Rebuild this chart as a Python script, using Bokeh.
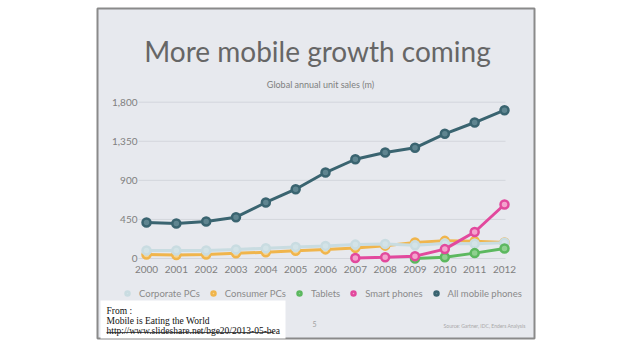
from bokeh.plotting import figure
from bokeh.models import Range1d, Legend, LegendItem
from bokeh.core.properties import value
from bokeh.embed import file_html
from bokeh.resources import INLINE

# ---- data ----
years = [2000, 2001, 2002, 2003, 2004, 2005, 2006, 2007, 2008, 2009, 2010, 2011, 2012]
corporate_pcs = [92, 92, 93, 105, 118, 133, 145, 160, 168, 152, 172, 170, 182]
consumer_pcs = [45, 40, 47, 60, 72, 90, 105, 122, 148, 185, 203, 200, 185]
all_mobile = [415, 403, 426, 476, 645, 798, 990, 1143, 1221, 1275, 1436, 1566, 1708]
tablet_years = [2009, 2010, 2011, 2012]
tablets = [0, 14, 62, 115]
smart_years = [2007, 2008, 2009, 2010, 2011, 2012]
smart_phones = [5, 14, 27, 108, 305, 622]
y_ticks = [0, 450, 900, 1350, 1800]
y_tick_labels = ["0", "450", "900", "1,350", "1,800"]
x_tick_labels = [str(y) for y in years]

title_text = "More mobile growth coming"
subtitle_text = "Global annual unit sales (m)"

# ---- pixel helpers (window pixels -> data) ----
XPX = (504 - 146) / 12.0
YPX = (258 - 101.7) / 1800.0
def px2x(wx):
    return 2000 + (wx - 146) / XPX
def px2y(wy):
    return (258 - wy) / YPX

SL, SR, ST, SB = 97, 534, 8, 338
W, H = 636, 357
SLIDE_BG = "#e7e9ee"
p = figure(width=W, height=H, output_backend="svg", toolbar_location=None,
           x_axis_type=None, y_axis_type=None,
           x_range=Range1d(px2x(SL), px2x(SR)), y_range=Range1d(px2y(SB), px2y(ST)),
           min_border_left=SL, min_border_right=W - SR, min_border_top=ST, min_border_bottom=H - SB)
p.grid.visible = False
p.background_fill_color = SLIDE_BG
p.border_fill_color = "white"
p.outline_line_color = "#8a8a8a"
p.outline_line_width = 2

# gridlines
p.segment(x0=[px2x(138)] * len(y_ticks), x1=[px2x(505)] * len(y_ticks), y0=y_ticks, y1=y_ticks,
          line_color="#d3d6dc", line_width=1)

# tick labels
p.text(x=[px2x(137)] * len(y_ticks), y=y_ticks, text=y_tick_labels, text_align="right",
       text_baseline="middle", text_font=value("Lato"), text_font_size="10px", text_color="#808080")
p.text(x=years, y=[px2y(269)] * len(years), text=x_tick_labels, text_align="center",
       text_baseline="middle", text_font=value("Lato"), text_font_size="10px", text_color="#808080")

# title and subtitle
p.text(x=[px2x(317)], y=[px2y(50)], text=[title_text], text_align="center",
       text_baseline="alphabetic", text_font=value("Lato"), text_font_size="28px", text_color="#666666")
p.text(x=[px2x(320)], y=[px2y(84)], text=[subtitle_text], text_align="center",
       text_baseline="middle", text_font=value("Lato"), text_font_size="9px", text_color="#808080")

# series
series = [
    ("Consumer PCs", years, consumer_pcs, "#f0b54c", "#f7d591"),
    ("Corporate PCs", years, corporate_pcs, "#c9dce1", "#d3e3e7"),
    ("Tablets", tablet_years, tablets, "#5cb85f", "#8fd08f"),
    ("Smart phones", smart_years, smart_phones, "#e2499d", "#f3a3cd"),
    ("All mobile phones", years, all_mobile, "#3a6470", "#5f8590"),
]
marker_r = {}
for name, xs, ys, lc, fc in series:
    p.line(xs, ys, line_color=lc, line_width=3)
    r = p.scatter(xs, ys, size=8, line_color=lc, line_width=2.5, fill_color=fc)
    marker_r[name] = r

legend_order = ["Corporate PCs", "Consumer PCs", "Tablets", "Smart phones", "All mobile phones"]
legend = Legend(items=[LegendItem(label=n, renderers=[marker_r[n]]) for n in legend_order],
                orientation="horizontal", location=(122 - SL, SB - 299),
                glyph_width=10, glyph_height=10, label_height=12, label_standoff=7, spacing=8,
                padding=0, margin=0, border_line_color=None, background_fill_alpha=0,
                label_text_font="Lato", label_text_font_size="9.5px", label_text_color="#8a8a8a")
p.add_layout(legend)

# footer
p.text(x=[px2x(314)], y=[px2y(323)], text=["5"], text_align="center", text_baseline="middle",
       text_font=value("Lato"), text_font_size="7px", text_color="#a0a0a0")
p.text(x=[px2x(525)], y=[px2y(325)], text=["Source: Gartner, IDC, Enders Analysis"], text_align="right",
       text_baseline="middle", text_font=value("Lato"), text_font_size="5px", text_color="#a8a8a8")

# "From" note box
p.quad(left=[px2x(100)], right=[px2x(285)], bottom=[px2y(SB + 2)], top=[px2y(300)],
       fill_color="white", line_color=None)
note_lines = ["From :", "Mobile is Eating the World", "http://www.slideshare.net/bge20/2013-05-bea"]
p.text(x=[px2x(106)] * 3, y=[px2y(310.5), px2y(320.5), px2y(330.5)], text=note_lines,
       text_align="left", text_baseline="alphabetic", text_font=value("Liberation Serif"),
       text_font_size="9.5px", text_color="#111111")
p.segment(x0=[px2x(106)], x1=[px2x(273)], y0=[px2y(332)], y1=[px2y(332)],
          line_color="#222222", line_width=0.8)

open("out.html", "w").write(file_html(p, INLINE))
